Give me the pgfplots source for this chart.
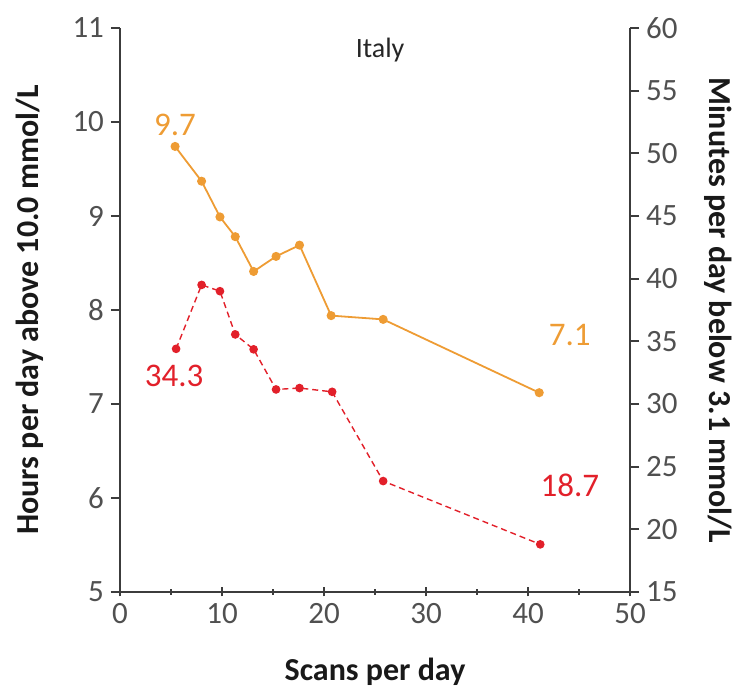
\documentclass[border=0pt]{standalone}
\usepackage{fontspec}
\setmainfont{Carlito}
\usepackage{pgfplots}
\pgfplotsset{compat=1.18}
\definecolor{orangeS}{RGB}{238,156,52}
\definecolor{redS}{RGB}{226,32,42}
\definecolor{axgray}{RGB}{60,60,60}
\begin{document}
\begin{tikzpicture}
\pgfplotsset{
  common/.style={
    scale only axis, width=255pt, height=282pt,
    xmin=0, xmax=50,
    /pgf/number format/assume math mode=true,
    tick label style={font=\fontsize{15.5}{18}\selectfont, text=axgray!90},
    label style={font=\bfseries\fontsize{16}{19}\selectfont, text=black!90},
    axis line style={axgray, line width=1pt},
    major tick style={axgray, line width=0.9pt},
    major tick length=4.5pt,
  }
}
\begin{axis}[common, name=main,
  ymin=5, ymax=11, ytick distance=1,
  axis x line*=bottom, axis y line*=left,
  xtick={0,10,20,30,40,50},
  extra x ticks={5,15,25,35,45}, extra x tick labels={},
  extra x tick style={major tick length=3pt, tick align=center},
  xtick align=center, ytick align=outside,
  x axis line style={shorten >=-4.5pt, shorten <=-4.5pt},
  xlabel={Scans per day},
  ylabel={Hours per day above 10.0 mmol/L},
  xlabel style={at={(axis description cs:0.5,-0.142)}, anchor=center},
  ylabel style={at={(axis description cs:-0.176,0.5)}, anchor=center},
]
\addplot[orangeS, line width=0.9pt, mark=*, mark size=1.8pt, mark options={solid, fill=orangeS}]
  coordinates {(5.4,9.74) (8.0,9.37) (9.8,8.99) (11.3,8.78) (13.1,8.41) (15.3,8.57) (17.6,8.69) (20.7,7.94) (25.8,7.90) (41.1,7.12)};
\node[orangeS, font=\fontsize{16.5}{19}\selectfont] at (axis cs:5.4,9.97) {9.7};
\node[orangeS, font=\fontsize{16.5}{19}\selectfont] at (axis cs:44.1,7.73) {7.1};
\node[font=\fontsize{14}{17}\selectfont, text=black!85] at (axis description cs:0.51,0.961) {Italy};
\end{axis}
\begin{axis}[common,
  ymin=15, ymax=60, ytick distance=5,
  axis x line=none, axis y line*=right,
  ytick align=outside,
  ylabel={Minutes per day below 3.1 mmol/L},
  ylabel style={at={(axis description cs:1.173,0.5)}, anchor=center, rotate=180},
]
\addplot[redS, line width=0.7pt, densely dashed, mark=*, mark size=1.8pt, mark options={solid, fill=redS}]
  coordinates {(5.5,34.4) (8.0,39.5) (9.8,39.0) (11.3,35.55) (13.1,34.36) (15.3,31.16) (17.6,31.27) (20.8,30.97) (25.8,23.85) (41.2,18.8)};
\node[redS, font=\fontsize{16.5}{19}\selectfont] at (axis cs:5.3,32.2) {34.3};
\node[redS, font=\fontsize{16.5}{19}\selectfont] at (axis cs:44.1,23.5) {18.7};
\end{axis}
\pgfresetboundingbox
\path[use as bounding box] ([shift={(-60pt,-52pt)}]main.south west) rectangle ([shift={(57pt,14pt)}]main.north east);
\end{tikzpicture}
\end{document}
